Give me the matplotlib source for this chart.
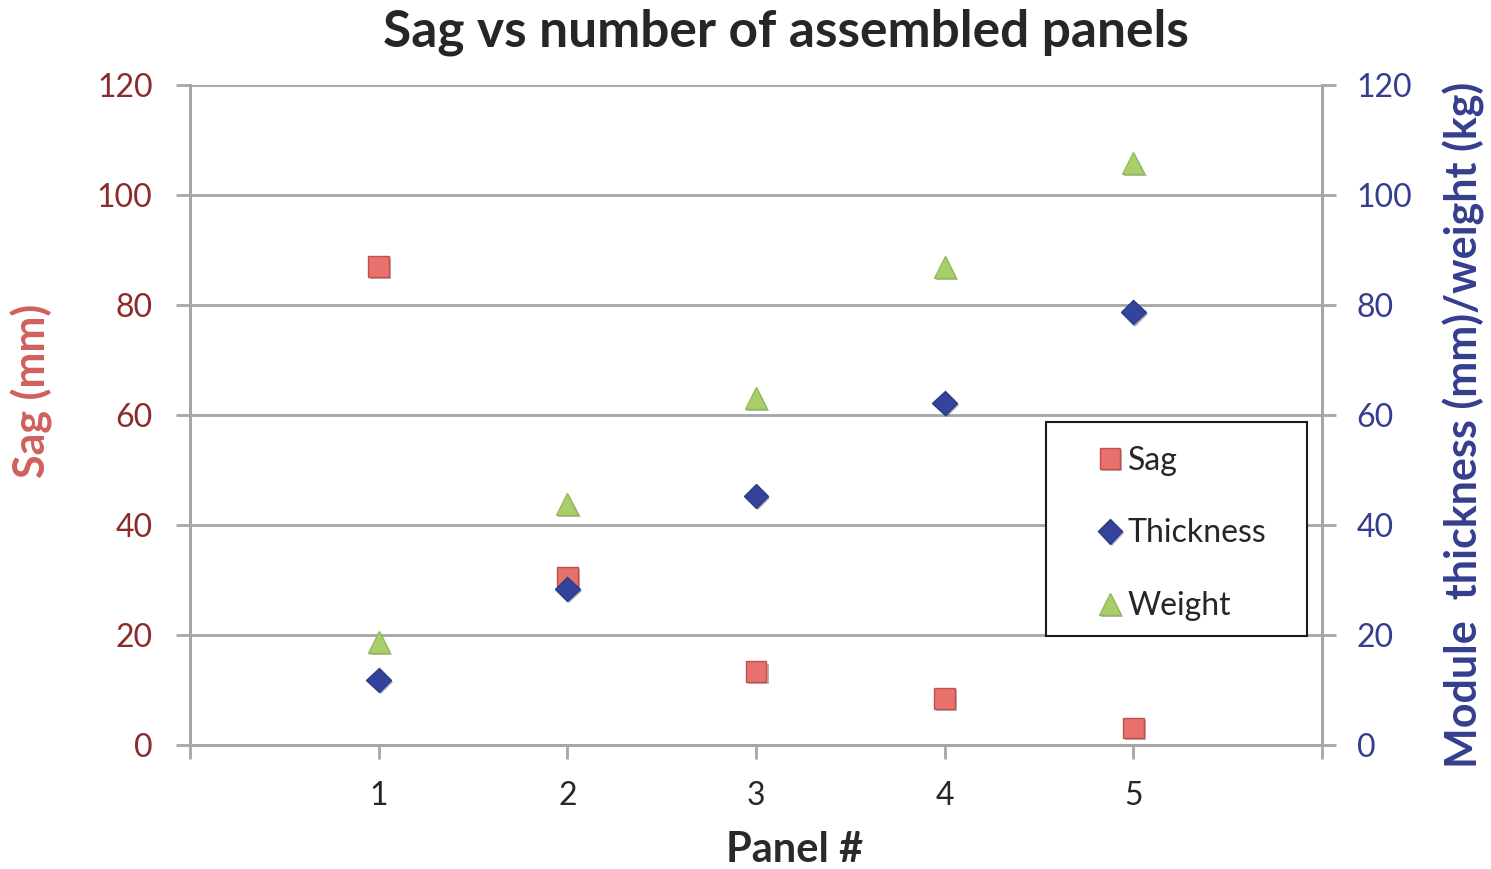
import numpy as np
import matplotlib.pyplot as plt
import matplotlib.patheffects as pe
from matplotlib.patches import Rectangle

plt.rcParams['font.family'] = ['Lato', 'DejaVu Sans']

# data
panels = [1, 2, 3, 4, 5]
sag = [87, 30.5, 13.3, 8.5, 3.1]
thickness = [11.8, 28.4, 45.3, 62.2, 78.7]
weight = [18.7, 43.8, 63.1, 86.9, 105.8]
y_ticks = [0, 20, 40, 60, 80, 100, 120]

grid_col = '#A6A6A6'
shadow = [pe.SimplePatchShadow(offset=(1.5, -1.5), alpha=0.35), pe.Normal()]

W, H = 1491, 869
fig = plt.figure(figsize=(W / 100, H / 100), dpi=100)
ax = fig.add_axes([190 / W, 1 - 745 / H, (1322 - 190) / W, (745 - 85) / H])
ax2 = ax.twinx()

ax.plot(panels, sag, ls='none', marker='s', ms=15, mfc='#E8706D', mec='#C0504D',
        mew=1, label='Sag', path_effects=shadow, zorder=3)
ax2.plot(panels, thickness, ls='none', marker='D', ms=12.5, mfc='#34449A', mec='#2B3A87',
         mew=1, label='Thickness', path_effects=shadow, zorder=3)
ax2.plot(panels, weight, ls='none', marker='^', ms=16, mfc='#A9CF6A', mec='#94B957',
         mew=1, label='Weight', path_effects=shadow, zorder=3)

for a in (ax, ax2):
    a.set_xlim(0, 6)
    a.set_ylim(0, 120)
    a.set_yticks(y_ticks)
    for s in a.spines.values():
        s.set_color(grid_col)
        s.set_linewidth(2)
    a.spines['top'].set_visible(False)

ax.yaxis.grid(True, color=grid_col, lw=2)
ax.set_axisbelow(True)
ax.set_xticks(range(0, 7))
ax.set_xticklabels([''] + [str(p) for p in panels] + [''])
ax.tick_params(axis='x', length=10, width=2, color=grid_col, labelsize=23,
               labelcolor='#262626', pad=16)
ax.tick_params(axis='y', length=10, width=2, color=grid_col, labelsize=23,
               labelcolor='#8C2B2B', pad=17)
ax2.tick_params(axis='y', length=10, width=2, color=grid_col, labelsize=23,
                labelcolor='#353D8E', pad=15)

ax.set_title('Sag vs number of assembled panels', fontsize=37, fontweight='bold',
             color='#262626', pad=28, x=0.5 + 30 / 1132)
ax.set_xlabel('Panel #', fontsize=30, fontweight='bold', color='#2a2a2a')
ax.xaxis.set_label_coords(0.5 + 39 / 1132, -0.13)
ax.set_ylabel('Sag (mm)', fontsize=31, fontweight='bold', color='#D0605D')
ax.yaxis.set_label_coords(-0.121, 0.536)
ax2.set_ylabel('Module  thickness (mm)/weight (kg)', fontsize=31, fontweight='bold',
               color='#353D8E')
ax2.yaxis.set_label_coords(1.107, 0.485)

# legend box drawn as a separate frame
fig.patches.append(Rectangle((1046 / W, 1 - 636 / H), 261 / W, 214 / H,
                             transform=fig.transFigure, fill=True, fc='white',
                             ec='#1a1a1a', lw=1.5, zorder=5))
h1, l1 = ax.get_legend_handles_labels()
h2, l2 = ax2.get_legend_handles_labels()
leg = fig.legend(h1 + h2, l1 + l2, loc='upper left',
                 bbox_to_anchor=(1094 / W, 1 - 446 / H),
                 bbox_transform=fig.transFigure, fontsize=23,
                 frameon=False, borderpad=0, labelspacing=1.33,
                 handletextpad=0.05, handlelength=1.0, borderaxespad=0)
leg.set_zorder(6)
for t in leg.get_texts():
    t.set_color('#262626')

fig.savefig('out.png', dpi=100)
